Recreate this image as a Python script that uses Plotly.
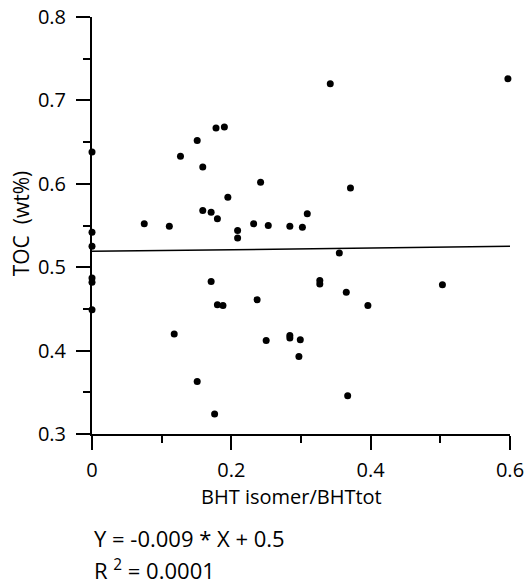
import plotly.graph_objects as go

bht_ratio = [0, 0, 0, 0, 0, 0,
             0.075, 0.111, 0.118, 0.127, 0.151, 0.151, 0.159, 0.159, 0.171, 0.171,
             0.176, 0.178, 0.180, 0.180, 0.188, 0.190, 0.195, 0.209, 0.209, 0.232,
             0.237, 0.242, 0.250, 0.253, 0.284, 0.284, 0.284, 0.297, 0.299, 0.302,
             0.309, 0.327, 0.327, 0.342, 0.355, 0.365, 0.367, 0.371, 0.396, 0.503, 0.597]
toc = [0.638, 0.542, 0.525, 0.487, 0.482, 0.449,
       0.552, 0.549, 0.420, 0.633, 0.652, 0.363, 0.620, 0.568, 0.566, 0.483,
       0.324, 0.667, 0.558, 0.455, 0.454, 0.668, 0.584, 0.544, 0.535, 0.552,
       0.461, 0.602, 0.412, 0.550, 0.549, 0.418, 0.415, 0.393, 0.413, 0.548,
       0.564, 0.484, 0.480, 0.720, 0.517, 0.470, 0.346, 0.595, 0.454, 0.479, 0.726]

fit_x = [0, 0.6]
fit_y = [0.519, 0.525]

x_ticks = [0, 0.2, 0.4, 0.6]
x_ticklabels = ["0", "0.2", "0.4", "0.6"]
y_ticks = [0.3, 0.4, 0.5, 0.6, 0.7, 0.8]
y_ticklabels = ["0.3", "0.4", "0.5", "0.6", "0.7", "0.8"]

x_title = "BHT isomer/BHTtot"
y_title = "TOC\u00a0\u00a0(wt%)"
eq_text = "Y = -0.009 * X + 0.5"
r2_text = "R <sup>2</sup> = 0.0001"

FONT = "Open Sans"

fig = go.Figure()
fig.add_trace(go.Scatter(x=fit_x, y=fit_y, mode="lines",
                         line=dict(color="black", width=1.5),
                         hoverinfo="skip", showlegend=False))
fig.add_trace(go.Scatter(x=bht_ratio, y=toc, mode="markers",
                         marker=dict(color="black", size=7),
                         cliponaxis=False, showlegend=False))

axis_common = dict(showline=True, linecolor="black", linewidth=2,
                   ticks="outside", tickwidth=2, ticklen=14, tickcolor="black",
                   showgrid=False, zeroline=False, automargin=False,
                   tickmode="array",
                   tickfont=dict(family=FONT, size=20, color="black"))

fig.update_xaxes(range=[0, 0.6], tickvals=x_ticks, ticktext=x_ticklabels,
                 ticklabelstandoff=3,
                 minor=dict(ticks="outside", dtick=0.1, ticklen=7, tickwidth=2,
                            tickcolor="black", showgrid=False),
                 **axis_common)
fig.update_yaxes(range=[0.3, 0.8], tickvals=y_ticks, ticktext=y_ticklabels,
                 ticklabelstandoff=6,
                 minor=dict(ticks="outside", dtick=0.05, ticklen=7, tickwidth=2,
                            tickcolor="black", showgrid=False),
                 **axis_common)

fig.add_annotation(text=x_title, xref="paper", yref="paper", x=0.478, y=-0.150,
                   showarrow=False, xanchor="center", yanchor="middle",
                   font=dict(family=FONT, size=20, color="black"))
fig.add_annotation(text=y_title, xref="paper", yref="paper", x=-0.170, y=0.505,
                   showarrow=False, xanchor="center", yanchor="middle", textangle=-90,
                   font=dict(family=FONT, size=21, color="black"))
fig.add_annotation(text=eq_text, xref="paper", yref="paper", x=0.0, y=-0.249,
                   showarrow=False, xanchor="left", yanchor="middle",
                   font=dict(family=FONT, size=22, color="black"))
fig.add_annotation(text=r2_text, xref="paper", yref="paper", x=0.0, y=-0.326,
                   showarrow=False, xanchor="left", yanchor="middle",
                   font=dict(family=FONT, size=22, color="black"))

fig.update_layout(template="none", width=526, height=584,
                  margin=dict(l=92, r=16, t=17, b=150, autoexpand=False),
                  plot_bgcolor="white", paper_bgcolor="white",
                  showlegend=False)

fig.write_html("out.html", config={"displayModeBar": False, "staticPlot": True},
               post_script="document.body.style.margin='0';document.body.style.overflow='hidden';")
